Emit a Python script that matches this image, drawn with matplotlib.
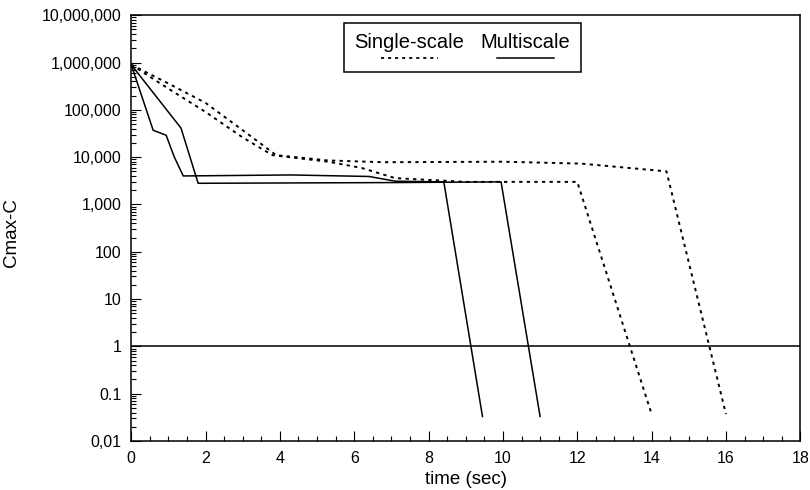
import matplotlib

matplotlib.use("Agg")
import matplotlib.pyplot as plt
from matplotlib.lines import Line2D
from matplotlib.offsetbox import AnchoredOffsetbox, DrawingArea, HPacker, TextArea, VPacker
from matplotlib.ticker import FixedLocator, LogLocator, MultipleLocator, NullFormatter

plt.rcParams["font.family"] = ["Liberation Sans", "DejaVu Sans"]

# multiscale runs (solid)
t_multi_1 = [0, 0.59, 0.94, 1.16, 1.40, 4.3, 6.4, 7.1, 8.41, 9.45]
c_multi_1 = [9.0e5, 3.7e4, 2.9e4, 1.0e4, 4.0e3, 4.2e3, 3.9e3, 3.1e3, 3.0e3, 0.033]
t_multi_2 = [0, 1.34, 1.80, 7.1, 9.95, 11.0]
c_multi_2 = [9.0e5, 4.1e4, 2.8e3, 2.9e3, 3.0e3, 0.033]

# single-scale runs (dotted)
t_single_1 = [0, 1.0, 2.0, 3.0, 3.9, 5.3, 6.8, 10.0, 12.1, 14.4, 16.0]
c_single_1 = [9.0e5, 3.6e5, 1.4e5, 3.7e4, 1.1e4, 8.5e3, 7.8e3, 8.0e3, 7.3e3, 5.0e3, 0.037]
t_single_2 = [0, 1.0, 2.0, 3.0, 3.8, 5.3, 6.2, 7.1, 9.0, 12.0, 14.0]
c_single_2 = [9.0e5, 2.8e5, 9.0e4, 2.6e4, 1.1e4, 8.0e3, 5.9e3, 3.6e3, 3.0e3, 3.0e3, 0.037]

threshold = 1.0

y_ticks = [1e-2, 1e-1, 1, 10, 100, 1e3, 1e4, 1e5, 1e6, 1e7]
y_labels = ["0,01", "0.1", "1", "10", "100", "1,000", "10,000", "100,000", "1,000,000", "10,000,000"]

DOT = (0, (1.7, 2.2))

fig = plt.figure(figsize=(8.1, 4.9), dpi=100)
ax = fig.add_axes([0.162, 0.1, 0.826, 0.869])

ax.plot(t_multi_1, c_multi_1, color="black", lw=1.1)
ax.plot(t_multi_2, c_multi_2, color="black", lw=1.1)
ax.plot(t_single_1, c_single_1, color="black", lw=1.4, linestyle=DOT)
ax.plot(t_single_2, c_single_2, color="black", lw=1.4, linestyle=DOT)
ax.axhline(threshold, color="black", lw=1.1)

ax.set_yscale("log")
ax.set_xlim(0, 18)
ax.set_ylim(1e-2, 1e7)
ax.yaxis.set_major_locator(FixedLocator(y_ticks))
ax.set_yticklabels(y_labels)
ax.yaxis.set_minor_locator(LogLocator(base=10, subs=range(2, 10), numticks=20))
ax.yaxis.set_minor_formatter(NullFormatter())
ax.xaxis.set_major_locator(MultipleLocator(2))
ax.xaxis.set_minor_locator(MultipleLocator(0.5))

ax.tick_params(which="both", direction="in", top=False, right=False, width=0.8)
ax.tick_params(which="major", length=7, labelsize=11.5, pad=7)
ax.tick_params(which="minor", length=3.5)
for spine in ax.spines.values():
    spine.set_linewidth(1.1)

ax.set_xlabel("time (sec)", fontsize=13.5, labelpad=4)
ax.set_ylabel("Cmax-C", fontsize=13.5)
ax.yaxis.set_label_coords(-0.166, 0.49)


def legend_entry(label, style, lw):
    txt = TextArea(label, textprops=dict(fontsize=14.5))
    da = DrawingArea(41, 5)
    da.add_artist(Line2D([0, 41], [2.5, 2.5], color="black", lw=lw, linestyle=style))
    return VPacker(children=[txt, da], align="center", pad=0, sep=2)


entries = HPacker(
    children=[legend_entry("Single-scale", DOT, 1.3), legend_entry("Multiscale", "-", 1.1)],
    align="center", pad=0, sep=12,
)
box = AnchoredOffsetbox(
    loc="center", child=entries, pad=0.75, frameon=True, borderpad=0,
    bbox_to_anchor=(0.495, 0.924), bbox_transform=ax.transAxes,
)
box.patch.set_linewidth(1.1)
box.patch.set_edgecolor("black")
ax.add_artist(box)

fig.savefig("out.png", dpi=100)
